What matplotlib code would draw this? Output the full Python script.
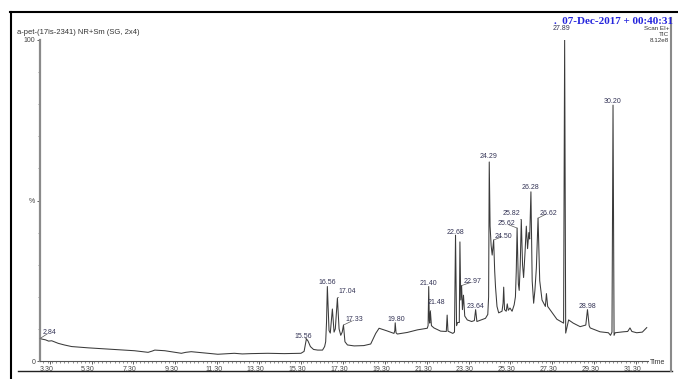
import numpy as np
import matplotlib
matplotlib.use("Agg")
import matplotlib.pyplot as plt
from matplotlib.lines import Line2D
from matplotlib.ticker import MultipleLocator, FixedLocator
from matplotlib.transforms import ScaledTranslation

plt.rcParams['font.family'] = ['Liberation Sans', 'DejaVu Sans']

# TIC trace: retention time [min] and relative abundance [%]
rt = [2.84, 2.95, 3.10, 3.25, 3.40, 3.55, 3.71, 4.00, 4.35, 5.14, 6.10, 7.35,
      8.00, 8.20, 8.32, 8.80, 9.20, 9.59, 9.80, 10.06, 10.40, 10.86, 11.33,
      12.12, 12.50, 12.92, 13.71, 14.50, 15.30, 15.45, 15.52, 15.56, 15.64,
      15.75, 15.90, 16.10, 16.33, 16.43, 16.48, 16.52, 16.56, 16.64, 16.70,
      16.80, 16.88, 16.94, 17.04, 17.12, 17.20, 17.27, 17.33, 17.40, 17.52,
      17.84, 18.30, 18.63, 18.87, 19.03, 19.40, 19.74, 19.78, 19.80, 19.84,
      19.90, 20.38, 20.86, 21.33, 21.37, 21.40, 21.43, 21.45, 21.48, 21.53,
      21.65, 21.97, 22.24, 22.28, 22.32, 22.55, 22.63, 22.68, 22.73, 22.78,
      22.86, 22.89, 22.93, 22.97, 23.01, 23.06, 23.12, 23.24, 23.45, 23.58,
      23.64, 23.70, 23.90, 24.11, 24.22, 24.26, 24.29, 24.33, 24.38, 24.43,
      24.50, 24.55, 24.59, 24.66, 24.74, 24.90, 24.95, 24.98, 25.02, 25.10,
      25.15, 25.20, 25.28, 25.38, 25.48, 25.54, 25.58, 25.62, 25.68, 25.72,
      25.77, 25.82, 25.88, 25.93, 26.00, 26.06, 26.12, 26.18, 26.22, 26.28,
      26.34, 26.41, 26.47, 26.54, 26.62, 26.70, 26.81, 26.97, 27.02, 27.08,
      27.20, 27.52, 27.84, 27.89, 27.94, 28.00, 28.08, 28.30, 28.63, 28.90,
      28.98, 29.06, 29.11, 29.58, 29.98, 30.08, 30.15, 30.20, 30.25, 30.30,
      30.70, 30.90, 31.01, 31.10, 31.33, 31.60, 31.81]
abundance = [7.0, 6.8, 6.6, 6.2, 6.3, 5.9, 5.5, 5.0, 4.5, 4.1, 3.7, 3.2,
             2.7, 3.1, 3.4, 3.2, 2.8, 2.4, 2.7, 2.9, 2.7, 2.4, 2.1,
             2.4, 2.2, 2.3, 2.4, 2.3, 2.4, 3.0, 5.5, 6.9, 6.2,
             4.5, 3.6, 3.4, 3.4, 4.5, 6.0, 12.0, 23.2, 9.5, 8.7,
             16.2, 9.0, 10.0, 19.6, 10.0, 8.0, 9.0, 11.2, 6.0, 5.0,
             4.7, 4.8, 5.3, 8.6, 10.2, 9.4, 8.6, 9.4, 11.9, 8.8,
             8.4, 8.9, 9.7, 10.2, 11.0, 23.2, 12.5, 11.8, 15.5, 11.0,
             10.3, 9.3, 9.2, 14.3, 9.3, 8.6, 9.0, 39.2, 11.0, 12.0,
             12.0, 37.1, 19.0, 23.5, 16.0, 20.5, 14.0, 12.8, 12.3, 12.6,
             16.0, 12.3, 12.8, 13.3, 14.5, 20.0, 62.0, 42.0, 36.0, 33.0,
             37.7, 28.0, 23.0, 17.0, 15.0, 15.5, 18.0, 23.0, 16.0, 15.5,
             17.8, 15.8, 16.5, 15.5, 17.5, 20.0, 28.0, 41.4, 24.0, 22.0,
             30.0, 44.0, 30.0, 26.0, 34.0, 42.0, 35.0, 40.0, 38.0, 52.7,
             25.0, 18.0, 22.0, 29.0, 44.5, 25.0, 19.0, 17.0, 21.0, 17.0,
             15.9, 13.0, 11.8, 100.0, 8.7, 10.5, 12.8, 11.8, 10.7, 11.2,
             16.0, 11.0, 10.3, 9.1, 8.8, 8.0, 9.0, 79.7, 8.0, 8.8,
             9.1, 9.2, 10.3, 9.2, 8.8, 9.0, 10.4]

# labelled peaks and the spot where each label is printed
peak_rt = [2.84, 15.56, 16.56, 17.04, 17.33, 19.80, 21.40, 21.48, 22.68, 22.97,
           23.64, 24.29, 24.50, 25.62, 25.82, 26.28, 26.62, 27.89, 28.98, 30.20]
label_x = [3.27, 15.41, 16.56, 17.52, 17.84, 19.83, 21.38, 21.78, 22.69, 23.50,
           23.65, 24.28, 24.97, 25.13, 25.37, 26.24, 27.10, 27.75, 28.96, 30.19]
label_y = [8.8, 7.6, 24.4, 21.8, 12.8, 12.8, 24.0, 18.2, 40.1, 24.7,
           16.9, 63.6, 38.9, 42.7, 46.1, 53.9, 46.1, 103.6, 17.1, 80.8]

x_ticks = [3.30, 5.30, 7.30, 9.30, 11.30, 13.30, 15.30, 17.30, 19.30, 21.30,
           23.30, 25.30, 27.30, 29.30, 31.30]

W, H = 678, 379
fig = plt.figure(figsize=(W / 100, H / 100), dpi=100)
ax = fig.add_axes([40 / W, 1 - 361 / H, 608 / W, 321 / H])

ax.plot(rt, abundance, color='#3a3a3a', lw=0.75)
ax.set_xlim(2.84, 31.87)
ax.set_ylim(0, 100)

for s in ['top', 'right']:
    ax.spines[s].set_visible(False)
ax.spines['left'].set_color('#8a8a8a')
ax.spines['left'].set_linewidth(1.6)
ax.spines['bottom'].set_color('#555555')
ax.spines['bottom'].set_linewidth(0.8)

ax.xaxis.set_major_locator(FixedLocator(x_ticks))
ax.xaxis.set_minor_locator(MultipleLocator(0.2))
ax.set_xticklabels(['%.2f' % t for t in x_ticks])
ax.tick_params(axis='x', which='major', length=2.5, width=0.6, pad=1,
               labelsize=5, colors='#444444')
ax.tick_params(axis='x', which='minor', length=1.5, width=0.5, colors='#666666')
for lab in ax.get_xticklabels():
    lab.set_transform(lab.get_transform() + ScaledTranslation(-3.5 / 100, 0, fig.dpi_scale_trans))

ax.yaxis.set_major_locator(FixedLocator([0, 50, 100]))
ax.yaxis.set_minor_locator(MultipleLocator(10))
ax.set_yticklabels(['0', '%', '100'])
ax.tick_params(axis='y', which='major', length=2.5, width=0.6, pad=1,
               labelsize=5, colors='#444444')
ax.tick_params(axis='y', which='minor', length=1.2, width=0.5, colors='#777777')

# retention time labels on the peaks
for p, lx, ly in zip(peak_rt, label_x, label_y):
    h = np.interp(p, rt, abundance)
    txt = '%.2f' % p
    if abs(lx - p) > 0.15 or p == 2.84:
        ax.annotate(txt, xy=(p, h), xytext=(lx, ly), ha='center', va='center',
                    fontsize=5, color='#333355', annotation_clip=False,
                    arrowprops=dict(arrowstyle='-', lw=0.5, color='#555555',
                                    shrinkA=1.5, shrinkB=0))
    else:
        ax.text(lx, ly, txt, ha='center', va='center', fontsize=5,
                color='#333355', clip_on=False)

# page furniture around the plot
def px_line(x0, y0, x1, y1, **kw):
    fig.add_artist(Line2D([x0 / W, x1 / W], [1 - y0 / H, 1 - y1 / H],
                          transform=fig.transFigure, **kw))

px_line(10, 12, 678, 12, color='black', lw=1.5)
px_line(11, 12, 11, 379, color='black', lw=1.5)
px_line(18, 370.5, 672, 370.5, color='#222222', lw=1.0)
px_line(671, 18, 671, 370.5, color='#8a8a8a', lw=1.5)

fig.text(17 / W, 1 - 32 / H, 'a-pet-(17is-2341) NR+Sm (SG, 2x4)', fontsize=5.5,
         color='#333333', ha='left', va='center')
fig.text(673 / W, 1 - 21 / H, '.  07-Dec-2017 + 00:40:31', fontsize=8,
         fontweight='bold', family='Liberation Serif', color='#2525dd',
         ha='right', va='center')
fig.text(669 / W, 1 - 29 / H, 'Scan EI+', fontsize=4.5, color='#333333', ha='right', va='center')
fig.text(669 / W, 1 - 35 / H, 'TIC', fontsize=4.5, color='#333333', ha='right', va='center')
fig.text(669 / W, 1 - 41 / H, '8.12e8', fontsize=4.5, color='#333333', ha='right', va='center')
fig.text(650 / W, 1 - 362 / H, 'Time', fontsize=5, color='#333333', ha='left', va='center')

fig.savefig('out.png', dpi=100)
